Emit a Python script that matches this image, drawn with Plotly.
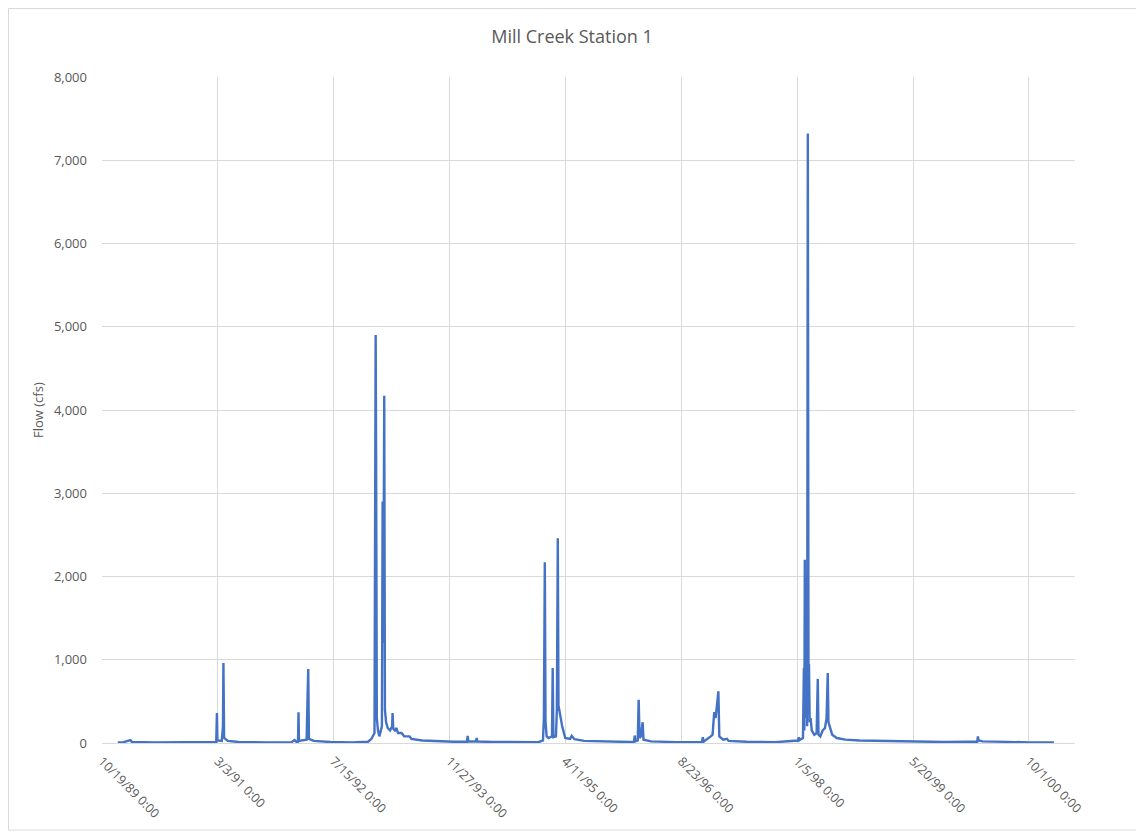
import plotly.graph_objects as go

# ---- data ----
dates = [
    "1989-12-26", "1990-01-20", "1990-02-19", "1990-02-25", "1990-06-01", "1990-10-01",
    "1991-01-15", "1991-02-24", "1991-02-27", "1991-03-01", "1991-03-20", "1991-03-25",
    "1991-03-27", "1991-03-30", "1991-04-15", "1991-06-01", "1991-10-01",
    "1992-01-15", "1992-01-28", "1992-02-05", "1992-02-12", "1992-02-14", "1992-02-16",
    "1992-03-20", "1992-03-23", "1992-03-27", "1992-03-30", "1992-04-20", "1992-07-01",
    "1992-10-01", "1992-12-10", "1992-12-25",
    "1993-01-07", "1993-01-10", "1993-01-12", "1993-01-14", "1993-01-17", "1993-01-22",
    "1993-01-28", "1993-02-08", "1993-02-11", "1993-02-14", "1993-02-18", "1993-02-21",
    "1993-02-26", "1993-03-05", "1993-03-15", "1993-03-24", "1993-03-26", "1993-03-29",
    "1993-04-05", "1993-04-12", "1993-04-18", "1993-05-04", "1993-05-15", "1993-06-07",
    "1993-06-15", "1993-08-01", "1993-10-01", "1993-12-15",
    "1994-02-10", "1994-02-13", "1994-02-16", "1994-03-21", "1994-03-24", "1994-03-27",
    "1994-06-01", "1994-10-01", "1994-12-15",
    "1995-01-04", "1995-01-08", "1995-01-12", "1995-01-15", "1995-01-20", "1995-01-28",
    "1995-02-12", "1995-02-15", "1995-02-18", "1995-03-01", "1995-03-05", "1995-03-09",
    "1995-03-12", "1995-03-20", "1995-03-28", "1995-04-10", "1995-05-01", "1995-05-08",
    "1995-05-20", "1995-07-01", "1995-10-01",
    "1996-01-15", "1996-02-01", "1996-02-04", "1996-02-07", "1996-02-17", "1996-02-21",
    "1996-02-25", "1996-03-02", "1996-03-09", "1996-03-13", "1996-04-15", "1996-08-01",
    "1996-11-20", "1996-11-24", "1996-11-27", "1996-12-28",
    "1997-01-05", "1997-01-12", "1997-01-18", "1997-01-30", "1997-02-03", "1997-02-20",
    "1997-03-08", "1997-03-15", "1997-06-01", "1997-10-01", "1997-12-01",
    "1998-01-09", "1998-01-12", "1998-01-15", "1998-01-30", "1998-02-03", "1998-02-05",
    "1998-02-07", "1998-02-10", "1998-02-14", "1998-02-17", "1998-02-20", "1998-02-23",
    "1998-02-25", "1998-02-28", "1998-03-04", "1998-03-09", "1998-03-20", "1998-03-30",
    "1998-04-04", "1998-04-07", "1998-04-15", "1998-04-25", "1998-05-05", "1998-05-12",
    "1998-05-17", "1998-05-20", "1998-05-25", "1998-06-05", "1998-06-25", "1998-08-01",
    "1998-10-01",
    "1999-01-15", "1999-05-01", "1999-10-01",
    "2000-01-15", "2000-02-21", "2000-02-24", "2000-02-27", "2000-03-15", "2000-06-01",
    "2000-10-01", "2001-01-17",
]
flow_cfs = [
    8, 10, 35, 12, 8, 6,
    8, 12, 360, 30, 25, 200,
    960, 60, 25, 12, 8,
    10, 35, 15, 14, 370, 25,
    40, 420, 890, 50, 25, 12,
    8, 15, 50,
    120, 3400, 4900, 3350, 300, 150,
    80, 200, 2900, 1200, 4170, 400,
    250, 180, 150, 200, 360, 170,
    150, 180, 120, 120, 80, 80,
    50, 30, 20, 15,
    15, 85, 20, 18, 60, 18,
    12, 8, 10,
    30, 300, 2170, 250, 80, 60,
    80, 900, 70, 80, 400, 2460,
    450, 300, 200, 60, 50, 85,
    45, 25, 15,
    12, 15, 90, 20, 30, 520,
    60, 80, 250, 40, 20, 10,
    12, 70, 15, 80,
    100, 370, 300, 620, 80, 40,
    50, 25, 15, 10, 20,
    30, 70, 35, 60, 900, 150,
    2200, 300, 1000, 200, 7320, 500,
    950, 250, 300, 150, 100, 120,
    770, 100, 80, 150, 180, 300,
    840, 250, 200, 100, 60, 40,
    30,
    25, 18, 12,
    15, 15, 80, 30, 20, 12,
    8, 8,
]

tick_dates = ["1989-10-19", "1991-03-03", "1992-07-15", "1993-11-27", "1995-04-11",
              "1996-08-23", "1998-01-05", "1999-05-20", "2000-10-01"]
tick_labels = ["10/19/89 0:00", "3/3/91 0:00", "7/15/92 0:00", "11/27/93 0:00", "4/11/95 0:00",
               "8/23/96 0:00", "1/5/98 0:00", "5/20/99 0:00", "10/1/00 0:00"]

title_text = "Mill Creek Station 1"
y_title = "Flow (cfs)"

grid = "#D9D9D9"
txt = "#595959"
font_family = "Open Sans, DejaVu Sans, sans-serif"

W, H = 1136, 827
L, R, T, B = 94, 1067, 69, 735  # plot area in figure pixels
pw, ph = R - L, B - T

fig = go.Figure()
fig.add_trace(go.Scatter(
    x=dates, y=flow_cfs, mode="lines",
    line=dict(color="#4472C4", width=2.4),
    showlegend=False,
))

fig.update_layout(
    width=W, height=H,
    margin=dict(l=L, r=W - R, t=T, b=H - B, pad=0),
    paper_bgcolor="white", plot_bgcolor="white",
    title=dict(text=title_text, x=564 / W, xanchor="center", y=1 - 29 / H, yanchor="middle",
               font=dict(family=font_family, size=18, color=txt)),
    font=dict(family=font_family, size=13, color=txt),
    xaxis=dict(
        type="date",
        range=["1989-10-19", "2001-04-18"],
        tickmode="array", tickvals=tick_dates, ticktext=tick_labels,
        tickangle=45,
        showgrid=True, gridcolor=grid, gridwidth=1,
        showline=True, linecolor=grid, linewidth=1,
        ticks="", ticklabelstandoff=5,
        tickfont=dict(family=font_family, size=12.5, color=txt),
        zeroline=False,
    ),
    yaxis=dict(
        range=[0, 8000], dtick=1000, tick0=0, tickformat=",",
        showgrid=True, gridcolor=grid, gridwidth=1,
        showline=False, zeroline=False,
        ticks="", ticklabelstandoff=14,
        tickfont=dict(family=font_family, size=13, color=txt),
    ),
    annotations=[dict(
        text=y_title, textangle=-90, xref="paper", yref="paper",
        x=(30 - L) / pw, y=0.5, xanchor="center", yanchor="middle",
        showarrow=False, font=dict(family=font_family, size=13, color=txt),
    )],
    shapes=[dict(
        type="rect", xref="paper", yref="paper",
        x0=(0.5 - L) / pw, x1=(1130 - L) / pw,
        y0=(B - 822) / ph, y1=(B - 0.5) / ph,
        line=dict(color=grid, width=1), fillcolor="rgba(0,0,0,0)", layer="below",
    )],
)

fig.write_html("out.html")
